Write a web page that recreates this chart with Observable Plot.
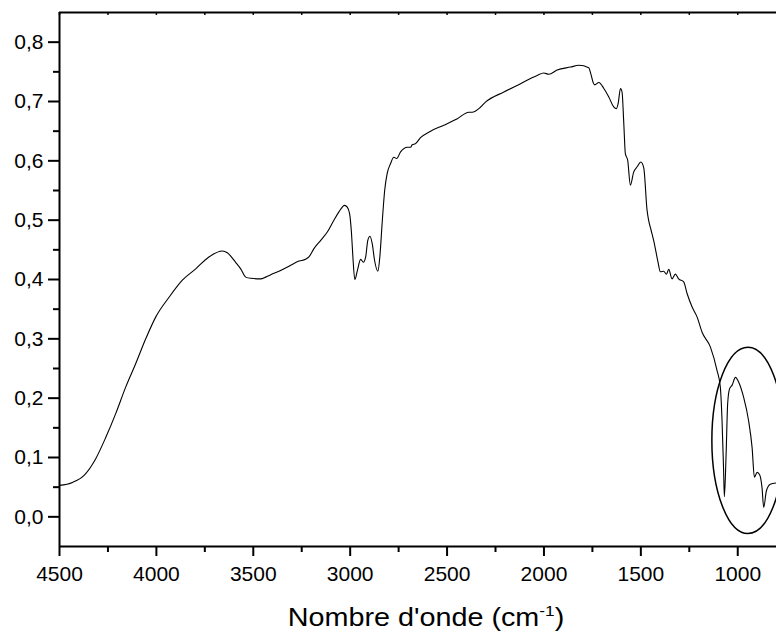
<!DOCTYPE html>
<html>
<head>
<meta charset="utf-8">
<script src="https://cdn.jsdelivr.net/npm/d3@7"></script>
<script src="https://cdn.jsdelivr.net/npm/@observablehq/plot@0.6"></script>
<style>
  html, body { margin: 0; padding: 0; background: #fff; }
  #wrap { position: relative; width: 776px; height: 634px; overflow: hidden; font-family: "Liberation Sans", Arial, sans-serif; }
  #title { position: absolute; top: 605px; left: 426px; transform: translateX(-50%) scaleX(1.15); font-size: 25px; line-height: 25px; white-space: nowrap; color: #000; }
  #title sup { font-size: 15px; line-height: 0; vertical-align: 10px; }
</style>
</head>
<body>
<div id="wrap"><div id="chart"></div><div id="title">Nombre d'onde (cm<sup>-1</sup>)</div></div>
<script>
// Wavenumber (cm^-1) and absorbance
const wavenumber = [4500,4433,4373,4313,4261,4210,4158,4107,4055,4003,
  3935,3866,3797,3729,3659,3634,3591,3565,3539,3513,
  3462,3436,3410,3359,3307,3264,3230,3213,3187,3152,
  3118,3084,3058,3029,3015,3003,2993,2986,2976,2963,
  2946,2932,2920,2909,2898,2886,2874,2857,2847,2834,
  2822,2809,2792,2775,2760,2740,2705,2688,2680,2663,
  2637,2585,2517,2447,2388,2370,2336,2302,2207,2121,
  2035,2001,1975,1932,1863,1820,1769,1756,1745,1738,
  1717,1691,1666,1640,1626,1617,1605,1597,1588,1580,
  1568,1554,1537,1519,1500,1485,1468,1460,1447,1434,
  1413,1399,1382,1368,1356,1339,1322,1305,1279,1261,
  1236,1210,1184,1141,1107,1090,1081,1073,1069,1060,
  1052,1042,1029,1012,995,970,944,926,914,900,
  887,875,866,852,832,801];
const absorbance = [.053,.058,.070,.098,.134,.174,.219,.258,.300,.337,
  .370,.399,.418,.438,.448,.445,.429,.418,.404,.402,
  .401,.404,.408,.415,.424,.431,.434,.438,.452,.466,
  .480,.500,.514,.525,.522,.511,.477,.438,.400,.415,
  .434,.429,.438,.466,.473,.460,.432,.414,.438,.500,
  .550,.579,.595,.606,.604,.615,.623,.623,.627,.629,
  .639,.650,.660,.671,.682,.682,.688,.699,.716,.730,
  .744,.748,.746,.753,.758,.761,.757,.744,.731,.728,
  .732,.722,.708,.691,.688,.697,.722,.716,.663,.612,
  .601,.559,.581,.590,.598,.588,.517,.500,.483,.466,
  .432,.413,.414,.409,.417,.401,.409,.401,.396,.376,
  .354,.337,.311,.286,.247,.219,.162,.078,.034,.106,
  .191,.216,.222,.235,.227,.202,.162,.117,.067,.075,
  .071,.050,.016,.044,.055,.057];

const xMajorTicks = [4500,4000,3500,3000,2500,2000,1500,1000];
const xMinorTicks = [4250,3750,3250,2750,2250,1750,1250];
const yMajorTicks = [0.0,0.1,0.2,0.3,0.4,0.5,0.6,0.7,0.8];
const yMinorTicks = [0.05,0.15,0.25,0.35,0.45,0.55,0.65,0.75];
const xDomain = [4500, 800];
const yDomain = [-0.05, 0.85];

// annotation ellipse (data units)
const ellipseCenter = [945, 0.128];
const ellipseRadii = [186, 0.157];

const data = wavenumber.map((w, i) => ({w, a: absorbance[i]}));
const fmtY = d => d.toFixed(1).replace(".", ",");
const font = "Liberation Sans, Arial, sans-serif";

const ellipseMark = (index, scales) => {
  const cx = scales.x(ellipseCenter[0]), cy = scales.y(ellipseCenter[1]);
  const rx = Math.abs(scales.x(ellipseCenter[0] + ellipseRadii[0]) - cx);
  const ry = Math.abs(scales.y(ellipseCenter[1] + ellipseRadii[1]) - cy);
  const g = d3.create("svg:g");
  g.append("ellipse").attr("cx", cx).attr("cy", cy).attr("rx", rx).attr("ry", ry)
    .attr("fill", "none").attr("stroke", "black").attr("stroke-width", 1.5);
  return g.node();
};

const chart = Plot.plot({
  width: 776,
  height: 590,
  marginLeft: 59,
  marginRight: 0,
  marginTop: 12,
  marginBottom: 44,
  style: {fontFamily: font, background: "#fff", color: "#000"},
  x: {domain: xDomain, label: null},
  y: {domain: yDomain, label: null},
  marks: [
    Plot.line(data, {x: "w", y: "a", stroke: "black", strokeWidth: 1.1, curve: "monotone-x"}),
    ellipseMark,
    Plot.ruleX(xMajorTicks.concat(xMinorTicks), {x: d => d, y1: yDomain[1], y2: yDomain[1] - 0.005, stroke: "black", strokeWidth: 1.5}),
    Plot.ruleY([yDomain[1]], {stroke: "black", strokeWidth: 2}),
    Plot.ruleY([yDomain[0]], {stroke: "black", strokeWidth: 2}),
    Plot.ruleX([xDomain[0]], {stroke: "black", strokeWidth: 2}),
    Plot.axisY({ticks: yMajorTicks, tickSize: 11, tickPadding: 5, tickFormat: fmtY, fontSize: 21, strokeWidth: 2, label: null}),
    Plot.axisY({ticks: yMinorTicks, tickSize: 6, tickFormat: () => "", strokeWidth: 2, label: null}),
    Plot.axisX({ticks: xMajorTicks, tickSize: 10, tickPadding: 10, tickFormat: d => String(d), fontSize: 21, strokeWidth: 2, label: null}),
    Plot.axisX({ticks: xMinorTicks, tickSize: 6, tickFormat: () => "", strokeWidth: 2, label: null})
  ]
});
document.getElementById("chart").appendChild(chart);
</script>
</body>
</html>
